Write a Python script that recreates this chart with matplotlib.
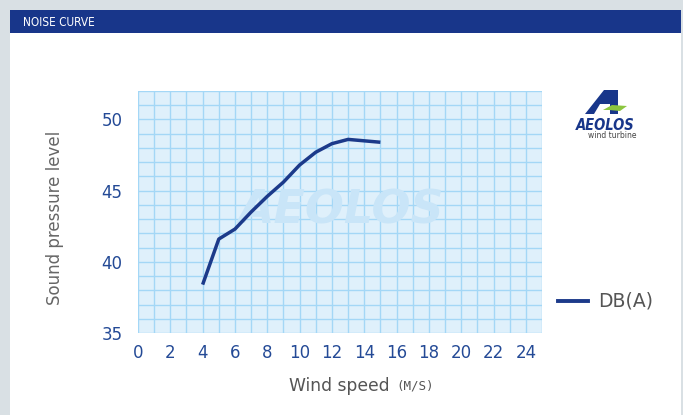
import matplotlib
matplotlib.use("Agg")
import matplotlib.pyplot as plt
from matplotlib.patches import Rectangle, Polygon
from matplotlib.lines import Line2D

wind_speed = [4, 5, 6, 7, 8, 9, 10, 11, 12, 13, 14, 15]
noise_db = [38.4, 41.6, 42.3, 43.5, 44.6, 45.6, 46.8, 47.7, 48.3, 48.6, 48.5, 48.4]
x_ticks = list(range(0, 25, 2))
y_ticks = [35, 40, 45, 50]

navy = '#18368a'
tick_col = '#244a96'

fig = plt.figure(figsize=(6.83, 4.15), dpi=100)
fig.patch.set_facecolor('#d9e0e4')

# card and header band
fig.patches.append(Rectangle((10/683, 0), 671/683, 1 - 10/415, transform=fig.transFigure,
                             facecolor='white', edgecolor='none', zorder=-2))
fig.patches.append(Rectangle((10/683, 1 - 33/415), 671/683, 23/415, transform=fig.transFigure,
                             facecolor=navy, edgecolor='none', zorder=-1))
fig.text(23/683, 1 - 22/415, 'NOISE CURVE', color='white', fontsize=8.5,
         va='center', ha='left', fontstretch='condensed')

ax = fig.add_axes([138/683, 1 - 333/415, 404/683, 242/415])
ax.set_zorder(2)
ax.set_facecolor('#dff0fb')
ax.set_xlim(0, 25)
ax.set_ylim(35, 52)
ax.set_xticks(x_ticks)
ax.set_yticks(y_ticks)
ax.set_xticks([v for v in range(0, 26) if v not in x_ticks], minor=True)
ax.set_yticks([v for v in range(35, 53) if v not in y_ticks], minor=True)
ax.grid(which='both', color='#a4d7f6', linewidth=1.0)
ax.set_axisbelow(True)
for s in ax.spines.values():
    s.set_visible(False)
ax.tick_params(which='both', length=0)
ax.tick_params(axis='x', pad=8, labelsize=12, labelcolor=tick_col)
ax.tick_params(axis='y', pad=11, labelsize=12, labelcolor=tick_col)

# watermark
ax.text(12.6, 43.6, 'AEOLOS', fontsize=33, fontweight='bold', fontstyle='italic',
        color='#c9e5f8', ha='center', va='center', zorder=1)

line, = ax.plot(wind_speed, noise_db, color='#1c3a8a', linewidth=2.5,
                solid_capstyle='butt', zorder=3, label='DB(A)')

ax.set_ylabel('Sound pressure level', color='#666666', fontsize=12)
ax.yaxis.set_label_coords(-0.183, 0.475)
fig.text(289/683, 1 - 386/415, 'Wind speed', color='#555555', fontsize=12.3,
         ha='left', va='center')
fig.text(396/683, 1 - 386/415, '(M/S)', color='#555555', fontsize=9,
         ha='left', va='center', family='DejaVu Sans Mono')

# legend
fig.lines.append(Line2D([558/683, 588/683], [1 - 301/415, 1 - 301/415],
                        transform=fig.transFigure, color='#1c3a8a', linewidth=2.8))
fig.text(598/683, 1 - 301/415, 'DB(A)', color='#555555', fontsize=13.5,
         ha='left', va='center')

# logo
fig.patches.append(Polygon([[585/683, 1 - 114/415], [604/683, 1 - 90/415],
                            [618/683, 1 - 90/415], [618/683, 1 - 114/415],
                            [610/683, 1 - 114/415], [610/683, 1 - 104/415],
                            [600/683, 1 - 104/415], [594/683, 1 - 114/415]],
                           closed=True, transform=fig.transFigure,
                           facecolor=navy, edgecolor='none', zorder=3))
fig.patches.append(Polygon([[603/683, 1 - 110/415], [612/683, 1 - 105/415],
                            [627/683, 1 - 106/415], [620/683, 1 - 111/415],
                            [609/683, 1 - 110/415]],
                           closed=True, transform=fig.transFigure,
                           facecolor='#8cc63f', edgecolor='none', zorder=4))
fig.text(605/683, 1 - 125/415, 'AEOLOS', color=navy, fontsize=10.5, fontweight='bold',
         fontstyle='italic', ha='center', va='center', fontstretch='condensed')
fig.text(612/683, 1 - 136/415, 'wind turbine', color='#444444', fontsize=5.5,
         ha='center', va='center')

fig.savefig('out.png', dpi=100)
